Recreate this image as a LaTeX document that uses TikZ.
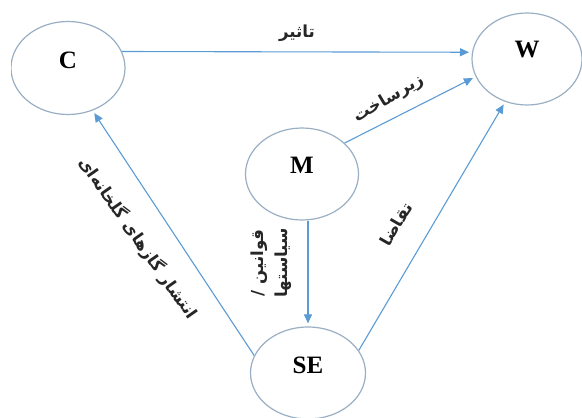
\documentclass[tikz,border=0pt]{standalone}
\usepackage{fontspec}
\setmainfont{Liberation Serif}
\newfontfamily\arabicfont[Script=Arabic]{DejaVu Sans}
\TeXXeTstate=1
\usetikzlibrary{shapes.geometric,arrows.meta}
\definecolor{ringcol}{HTML}{9AAFC4}
\definecolor{linkcol}{HTML}{5B9BD5}
\tikzset{
  ring/.style={ellipse, draw=ringcol, line width=0.6pt, inner sep=0pt, fill=white},
  tag/.style={font=\bfseries\fontsize{12.5}{14}\selectfont, text=black},
  link/.style={draw=linkcol, line width=0.55pt, -{Triangle[length=4.5pt,width=4pt]}, shorten >=1.5pt},
  fa/.style={font=\arabicfont\bfseries\fontsize{8.3}{9}\selectfont, text=black!85, inner sep=0pt, align=center}
}
\begin{document}
\begin{tikzpicture}[x=0.5pt,y=-0.5pt]
  \useasboundingbox (0,0) rectangle (582,417);
  \begin{scope}
    \clip (11,0) rectangle (582,417);
    % the four actors
    \node[ring, minimum width=57pt, minimum height=46.5pt,
          label={[tag, name=Ct, yshift=4pt]center:C}] (C) at (68,68) {};
    \node[ring, minimum width=55pt, minimum height=46pt,
          label={[tag, name=Wt, yshift=4.5pt]center:W}] (W) at (527,59) {};
    \node[ring, minimum width=56.5pt, minimum height=46pt,
          label={[tag, name=Mt, yshift=4.5pt]center:M}] (M) at (302,174) {};
    \node[ring, minimum width=57.5pt, minimum height=46pt,
          label={[tag, name=SEt, yshift=4pt]center:SE}] (SE) at (308,373) {};
  \end{scope}

  % influences
  \draw[link] (C.17) -- (W.173);
  \draw[link] (M.36) -- (W.199);
  \draw[link] (SE |- M.south) -- (SE.north);
  \draw[link] (SE.24) -- (W.243);
  \draw[link] (SE.162) -- (C.300);

  % edge captions
  \node[fa] (l1) at (297,33) {\beginR تاثیر\endR};
  \node[fa, rotate=31] (l2) at (389,99) {\beginR زیرساخت\endR};
  \node[fa, rotate=-55] (l3) at (138,238) {\beginR انتشار گازهای گلخانه‌ای\endR};
  \node[fa, rotate=90] (l4) at (271,263) {\beginR قوانین /\endR\\[3pt]\beginR سیاستها\endR};
  \node[fa, rotate=60] (l5) at (396,224) {\beginR تقاضا\endR};
\end{tikzpicture}
\end{document}
